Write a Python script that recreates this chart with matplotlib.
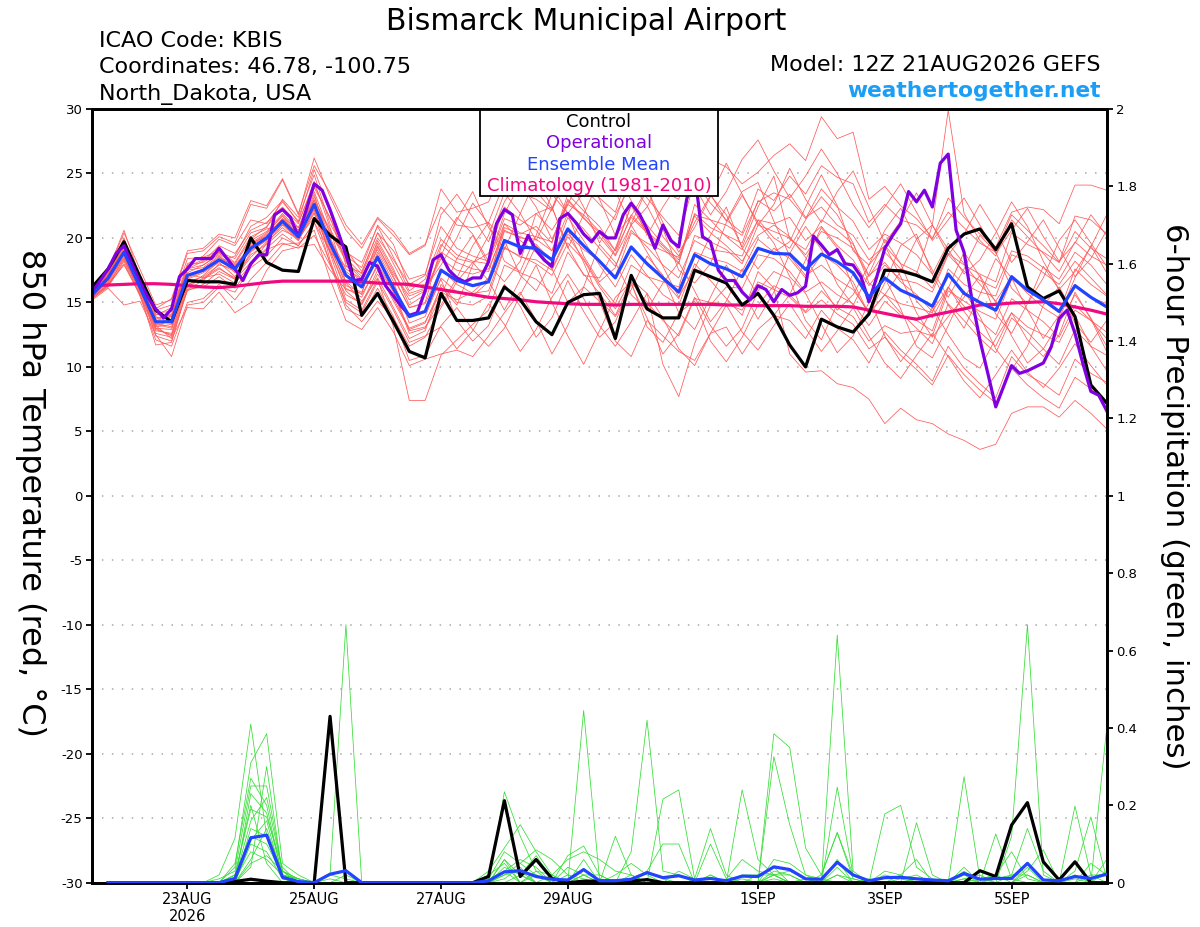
import matplotlib
matplotlib.use("Agg")
import matplotlib.pyplot as plt
from matplotlib.patches import Rectangle
import numpy as np

# ---------------- data ----------------
title = "Bismarck Municipal Airport"
info_left = ["ICAO Code: KBIS", "Coordinates: 46.78, -100.75", "North_Dakota, USA"]
model_text = "Model: 12Z 21AUG2026 GEFS"
site_text = "weathertogether.net"

# x in 6-hour steps from 12Z 21AUG2026
xtick_pos = [6, 14, 22, 30, 42, 50, 58]
xtick_labels = ["23AUG\n2026", "25AUG", "27AUG", "29AUG", "1SEP", "3SEP", "5SEP"]
ytick_left = [-30, -25, -20, -15, -10, -5, 0, 5, 10, 15, 20, 25, 30]
ytick_right = [0, 0.2, 0.4, 0.6, 0.8, 1.0, 1.2, 1.4, 1.6, 1.8, 2.0]
ytick_right_labels = ["0", "0.2", "0.4", "0.6", "0.8", "1", "1.2", "1.4", "1.6", "1.8", "2"]

# 850 hPa temperature (6-hourly, 65 points)
control_t = [16.2,17.6,19.7,17.0,14.4,13.5,16.7,16.6,16.6,16.4,20.0,18.1,17.5,17.4,21.5,20.2,19.3,14.0,15.7,13.5,11.2,10.7,
             15.7,13.6,13.6,13.8,16.2,15.2,13.5,12.5,15.0,15.6,15.7,12.2,17.1,14.5,13.8,13.8,17.5,17.0,16.5,14.8,15.7,14.0,
             11.7,10.0,13.7,13.1,12.7,14.1,17.5,17.45,17.1,16.6,19.2,20.3,20.7,19.1,21.1,16.2,15.3,15.9,13.9,8.6,7.2]
mean_t = [15.6,16.9,18.9,16.2,13.5,13.5,17.1,17.5,18.3,17.6,19.2,20.0,21.3,20.1,22.6,19.6,17.1,16.2,18.5,16.1,13.9,14.3,
          17.5,16.7,16.3,16.6,19.8,19.3,19.2,18.3,20.7,19.4,18.2,16.9,19.3,18.0,16.9,15.8,18.7,18.0,17.6,17.0,19.2,18.8,
          18.75,17.55,18.75,18.15,17.3,15.4,16.9,15.95,15.4,14.7,17.2,15.7,15.0,14.4,17.0,15.95,15.2,14.3,16.3,15.4,14.65]
clim_t = [16.3,16.35,16.4,16.45,16.45,16.4,16.3,16.2,16.15,16.25,16.4,16.55,16.65,16.65,16.65,16.65,16.65,16.6,16.5,16.45,
          16.4,16.2,16.0,15.8,15.6,15.4,15.3,15.2,15.05,14.97,14.9,14.85,14.85,14.8,14.85,14.85,14.85,14.85,14.85,14.85,
          14.8,14.8,14.75,14.75,14.75,14.7,14.7,14.7,14.65,14.4,14.15,13.9,13.7,14.0,14.25,14.5,14.8,14.85,14.95,15.0,
          15.05,14.9,14.65,14.4,14.1]
# operational run (3-hourly, 129 points)
oper_t = [15.8,16.7,17.6,18.8,19.4,18.0,16.6,15.4,14.5,13.8,
          14.5,17.0,17.6,18.4,18.4,18.4,19.2,18.4,17.6,16.7,
          18.0,18.7,18.7,21.8,22.2,21.6,20.1,22.2,24.2,23.7,
          22.2,20.5,18.7,16.7,16.8,18.1,17.8,16.3,15.5,14.7,
          14.0,14.2,15.9,18.3,18.7,17.5,16.9,16.6,16.9,16.9,
          18.15,21.1,22.2,21.8,18.8,20.2,19.05,18.3,17.8,21.5,
          21.9,21.2,20.3,19.7,20.5,20.0,20.0,21.8,22.7,21.9,
          20.7,19.2,21.0,19.8,19.3,23.0,25.0,20.1,19.7,17.5,
          16.7,16.7,15.8,15.2,16.3,16.0,15.05,16.0,15.55,15.75,
          16.25,20.15,19.45,18.7,19.1,18.0,17.9,17.0,15.05,17.0,
          19.2,20.2,21.1,23.6,22.8,23.7,22.4,25.8,26.5,20.6,
          18.9,15.2,12.1,9.5,6.9,8.5,10.1,9.5,9.7,10.0,
          10.3,11.55,13.75,14.4,12.6,10.25,8.1,7.8,6.6]

# ensemble members (6-hourly, 65 points)
mem01 = [16.0,17.4,20.4,17.6,14.8,15.2,18.8,19.0,20.1,19.6,22.6,22.3,24.5,21.8,26.2,23.2,20.6,19.2,21.5,20.2,18.7,19.4,
         23.8,22.0,22.3,22.8,25.4,24.1,23.6,22.2,25.8,24.6,23.1,22.0,25.6,24.4,23.6,23.0,27.2,26.1,25.5,24.2,25.1,26.4,
         27.3,26.0,29.4,27.7,28.2,23.0,24.0,22.5,21.5,20.0,22.0,20.8,19.6,18.9,21.8,20.6,19.4,18.1,20.5,19.2,18.4]
mem02 = [15.3,16.2,18.2,15.5,12.1,11.6,15.0,15.3,16.4,15.2,16.8,18.1,19.5,19.6,20.6,16.8,13.6,12.9,14.6,12.7,10.1,10.6,
         11.0,11.3,10.8,12.4,14.2,15.8,13.6,11.0,13.2,16.2,15.1,12.0,10.8,13.6,12.4,11.2,10.5,12.6,13.1,11.0,12.9,14.0,
         13.6,12.2,14.4,13.0,12.1,10.3,12.7,11.3,10.2,8.9,11.6,9.9,8.7,7.6,10.8,9.4,8.7,7.8,10.6,9.5,8.8]
mem03 = [15.6,17.2,19.6,16.8,13.9,13.4,17.6,18.2,19.4,18.8,20.6,21.2,22.4,21.1,24.4,20.8,16.5,15.1,16.9,14.6,12.2,12.8,
         16.4,15.0,14.8,15.5,19.2,18.6,18.0,17.1,19.6,18.3,16.2,14.5,16.8,15.7,10.2,7.7,11.8,14.8,16.2,16.1,18.7,18.4,
         17.4,15.8,16.6,15.6,14.9,13.2,15.1,14.0,13.6,12.8,16.2,14.7,13.6,12.5,15.3,14.4,13.5,12.3,14.8,13.6,12.7]
mem04 = [15.4,16.5,18.6,15.8,13.0,12.9,16.4,16.8,17.6,16.9,18.5,19.7,20.8,19.8,21.9,18.9,17.8,17.3,20.4,19.0,16.8,17.2,
         20.9,19.2,18.6,18.2,21.5,21.0,21.9,20.6,22.6,21.8,20.5,19.0,21.6,20.4,19.2,18.0,22.6,21.4,20.1,19.1,21.4,20.0,
         19.2,21.4,23.2,21.8,19.6,16.5,15.6,17.4,19.9,21.0,19.1,17.2,18.3,20.4,22.8,20.9,18.2,16.0,17.4,19.3,21.8]
mem05 = [15.8,17.0,19.9,16.5,13.2,12.2,14.6,14.5,15.8,14.2,15.0,17.5,19.0,19.3,19.5,17.5,16.0,15.7,19.3,17.2,15.5,16.0,
         18.6,21.4,23.6,20.8,19.1,21.9,24.6,22.4,19.2,21.8,24.6,25.2,22.9,20.2,22.4,24.3,25.6,23.4,21.3,23.6,24.3,21.3,
         18.6,17.1,17.9,16.8,16.0,14.2,15.6,14.9,14.6,14.2,17.6,16.4,15.8,15.5,18.7,18.2,17.3,16.4,18.2,16.9,15.6]
mem06 = [16.2,17.5,20.6,17.0,14.2,14.3,18.0,18.6,19.9,19.4,21.4,21.1,22.8,21.3,25.3,22.0,17.9,16.5,19.8,17.6,14.8,15.6,
         18.9,18.1,17.6,17.4,20.8,20.3,20.9,19.6,23.4,22.1,20.9,19.0,22.6,21.0,19.5,18.3,21.7,20.4,19.4,18.2,20.2,21.0,
         20.1,18.5,16.3,14.4,15.6,17.9,19.4,17.0,14.2,12.3,13.9,15.4,17.1,15.0,12.4,10.3,11.4,13.4,15.6,13.8,11.6]
mem07 = [15.5,16.6,18.9,16.2,12.4,12.0,16.0,16.7,18.0,17.4,19.6,20.4,21.7,20.2,23.0,18.3,14.8,13.5,15.1,13.8,11.6,12.3,
         14.6,16.6,18.1,16.7,14.4,16.8,19.4,17.6,15.0,16.2,19.5,18.1,15.6,14.4,16.5,18.1,15.9,13.5,15.1,17.6,15.5,14.0,
         15.6,18.3,20.8,19.2,16.2,14.1,16.5,19.4,20.3,17.2,14.8,13.0,15.6,18.4,16.9,14.4,12.2,14.0,16.9,19.4,17.3]
mem08 = [15.2,16.1,14.8,15.1,12.5,10.8,14.8,15.0,16.2,15.8,17.7,18.6,20.0,19.4,21.2,19.0,15.9,14.8,17.2,15.3,13.0,13.5,
         15.8,15.2,15.8,16.9,20.5,20.1,19.5,18.2,21.6,19.8,17.9,16.2,18.7,17.1,15.6,14.8,18.0,16.7,15.3,14.0,17.4,16.1,
         11.0,9.6,9.7,8.7,8.4,7.5,5.6,6.8,5.9,5.6,4.8,4.3,3.6,4.0,6.4,6.9,6.9,6.1,7.4,6.4,5.2]
mem09 = [15.7,17.1,19.3,16.6,13.6,13.9,17.5,17.7,18.6,17.3,19.8,20.5,21.9,20.6,23.6,20.3,18.6,17.7,21.0,19.5,16.2,16.4,
         19.5,18.4,18.1,18.8,22.4,21.4,20.6,19.0,22.9,21.5,20.4,18.7,21.8,20.5,19.4,18.1,21.9,20.8,20.2,19.6,22.9,22.1,
         23.4,21.6,22.4,21.0,20.2,18.3,19.4,18.0,17.4,16.1,18.8,17.9,17.2,16.6,20.4,19.5,18.9,18.1,21.7,21.4,20.3]
mem10 = [15.9,17.3,20.0,16.9,14.0,14.6,18.4,18.5,19.0,18.1,20.1,20.7,21.0,19.9,22.4,19.2,16.6,15.6,17.8,15.8,12.6,13.0,
         15.5,18.4,20.2,17.9,16.6,18.2,21.9,22.4,19.3,17.1,16.9,19.2,22.5,20.4,17.8,15.4,17.6,20.2,22.4,19.2,17.6,19.2,
         18.4,16.9,18.7,17.9,16.6,14.1,15.6,14.2,13.0,11.8,14.9,13.6,12.2,11.1,13.8,12.7,11.4,10.2,12.9,11.6,10.9]
mem11 = [15.5,16.8,18.4,16.0,13.2,13.6,17.3,17.9,18.8,17.9,19.4,20.2,21.5,20.8,22.9,20.5,18.2,17.0,19.1,16.9,14.6,14.9,
         17.6,16.4,15.7,15.9,19.3,18.5,18.3,17.5,20.1,18.4,16.4,14.9,17.9,17.0,16.6,16.2,20.2,19.7,19.1,18.0,21.0,20.5,
         20.0,18.7,20.5,20.0,19.2,17.0,18.9,17.6,17.2,21.0,29.9,21.9,19.8,18.6,21.4,20.1,18.8,17.4,19.7,18.6,17.9]
mem12 = [15.3,16.4,17.9,15.6,12.8,12.6,16.6,17.0,17.9,17.6,19.0,19.8,21.1,20.0,22.0,18.0,14.5,13.9,16.1,13.9,10.5,10.9,
         13.2,14.6,12.9,11.6,13.0,15.6,17.9,15.0,12.4,10.2,12.8,15.4,16.6,13.1,11.9,14.2,15.1,12.0,10.4,12.3,14.8,16.3,
         15.6,14.3,15.9,14.6,13.9,12.0,13.2,12.6,12.8,12.4,15.9,15.1,14.3,13.7,16.8,16.0,15.1,14.2,17.6,16.4,15.5]
mem13 = [16.1,17.2,19.5,16.6,13.8,14.0,17.8,18.3,18.9,18.4,20.4,20.8,23.0,21.6,24.9,21.1,18.9,18.1,20.9,18.5,15.9,16.8,
         19.9,18.7,18.2,18.0,21.1,19.8,18.9,17.6,20.3,19.1,18.2,17.0,20.4,19.6,19.0,18.5,21.8,21.4,21.0,20.2,22.8,23.5,
         23.0,21.5,23.8,22.4,21.3,19.1,20.3,19.6,18.7,17.2,19.6,18.0,16.4,15.1,17.0,15.7,14.6,13.8,16.4,15.4,14.9]
mem14 = [15.6,16.7,18.7,16.1,13.4,13.1,16.8,17.3,18.1,17.0,18.7,19.5,20.6,20.0,21.6,19.9,17.4,16.4,18.7,16.3,14.0,14.2,
         16.8,13.6,12.0,13.2,16.4,14.7,12.3,13.8,16.7,14.3,12.3,13.5,16.4,13.8,11.0,12.6,15.4,13.2,11.6,13.0,15.9,17.4,
         16.8,13.6,12.1,14.9,17.2,15.5,12.4,10.4,12.1,14.6,12.5,10.7,9.9,12.2,14.2,12.1,10.8,12.5,15.8,13.7,11.2]
mem15 = [15.4,16.3,18.0,15.7,11.7,11.9,16.2,16.9,17.7,16.8,18.9,19.9,21.2,19.8,22.2,18.8,15.2,14.4,16.8,13.1,7.4,7.4,
         10.9,12.1,13.3,14.4,17.9,17.3,16.8,15.7,18.9,17.2,15.7,14.0,16.6,15.0,13.6,12.4,15.3,15.0,14.9,14.4,16.6,16.0,
         15.4,14.2,15.2,14.1,13.3,11.4,12.3,10.9,9.8,8.6,10.9,9.4,8.2,7.2,9.9,8.6,7.6,6.8,9.2,8.3,7.1]
mem16 = [15.8,17.1,19.2,16.4,14.5,15.3,19.0,19.2,20.3,20.0,22.9,22.5,24.6,21.9,25.6,23.5,21.0,19.5,21.6,20.5,18.8,19.5,
         22.4,21.0,20.8,21.2,24.3,23.5,23.0,22.1,25.2,23.9,22.6,21.4,24.8,23.1,21.6,20.2,24.4,22.7,21.4,20.4,23.8,22.9,
         24.8,23.4,25.6,24.7,24.2,21.2,22.6,21.4,21.0,19.9,23.1,21.6,20.3,19.3,22.0,22.4,22.2,21.1,24.1,24.1,23.7]
mem17 = [15.6,16.9,19.1,16.3,13.3,13.0,16.9,17.4,18.4,17.7,19.5,20.3,21.8,20.4,23.4,19.4,16.3,15.8,18.9,16.6,13.4,13.9,
         16.9,15.8,15.5,16.6,21.1,20.4,20.1,19.7,23.0,21.6,20.1,18.6,21.0,18.9,16.8,15.3,18.9,18.4,18.1,17.4,19.9,18.9,
         19.7,22.4,24.9,22.5,19.0,17.9,20.6,22.3,19.9,17.5,15.4,17.6,20.2,18.9,16.1,14.9,16.9,19.8,21.4,19.6,17.8]
mem18 = [15.9,17.0,19.8,17.2,14.4,14.8,17.2,16.9,17.2,16.5,17.9,19.1,19.6,19.2,20.2,17.9,15.6,14.9,17.5,15.1,12.9,13.4,
         16.2,14.8,17.9,20.2,23.5,21.9,19.8,22.3,24.7,22.4,19.6,21.8,24.2,22.5,20.1,18.6,21.2,23.3,21.8,19.3,22.4,24.8,
         19.9,19.1,21.4,20.6,19.5,17.1,18.1,16.6,15.6,14.3,16.2,14.3,12.7,11.6,14.2,13.1,12.5,11.9,14.4,13.6,12.2]
mem19 = [15.7,16.8,18.8,16.0,13.1,13.3,17.0,17.6,18.5,17.8,19.3,20.0,21.4,20.3,23.2,20.0,17.6,16.8,19.6,17.4,15.2,15.9,
         18.4,17.5,17.2,17.6,20.6,20.0,19.9,19.0,21.9,20.7,19.2,17.8,20.6,19.3,17.9,16.9,19.8,19.1,18.9,18.6,21.4,21.1,
         21.6,19.8,20.9,19.4,18.3,16.3,17.9,16.8,16.5,15.8,18.7,17.4,16.7,16.1,19.0,18.6,17.7,16.8,18.9,17.9,16.4]
mem20 = [15.4,16.4,18.3,15.9,12.9,12.5,16.3,17.1,18.2,18.6,20.9,21.6,22.9,21.2,24.1,21.5,19.1,17.4,20.4,18.0,15.7,16.1,
         17.9,20.0,22.7,21.1,18.2,17.4,20.2,23.4,21.9,18.6,16.6,17.7,21.1,23.8,20.7,17.5,16.5,18.0,21.2,23.3,21.2,19.6,
         17.0,15.7,13.3,11.1,12.4,15.0,16.9,14.5,11.6,10.7,13.2,15.9,13.9,11.4,9.8,11.6,14.8,16.2,14.0,11.6,9.7]
mem21 = [15.5,16.6,18.9,16.6,13.0,12.4,16.0,16.2,17.0,16.1,17.8,19.6,21.0,20.6,22.2,19.0,16.1,15.4,18.0,15.9,12.8,13.1,
         14.8,16.9,19.4,21.2,19.8,17.1,15.9,18.2,20.6,18.1,15.2,13.9,16.0,18.6,17.1,14.2,12.9,15.4,17.9,16.0,13.7,15.8,
         18.8,20.9,19.1,16.4,14.8,17.2,19.9,18.0,15.1,13.8,16.1,18.9,17.0,14.1,12.6,14.9,17.8,16.0,13.4,11.9,13.6]
mem22 = [15.9,17.2,19.4,17.0,14.1,13.9,17.9,18.1,18.9,18.0,19.9,20.9,22.3,20.8,23.9,21.6,18.1,16.8,19.4,17.0,14.6,15.0,
         19.3,21.6,20.3,18.2,21.9,24.2,22.4,19.9,22.6,25.1,23.0,20.2,21.7,23.8,21.2,18.9,20.8,23.2,25.8,23.4,21.0,22.6,
         25.4,23.0,21.2,23.6,25.2,22.4,19.6,21.3,23.5,21.0,18.7,20.3,22.6,20.6,18.1,19.7,21.4,19.2,17.0,18.4,20.6]
mem23 = [15.3,16.3,18.5,15.6,12.6,12.3,15.9,16.4,17.4,16.8,18.1,19.2,20.3,19.4,21.2,18.1,15.0,14.2,16.6,14.4,11.9,12.4,
         13.1,11.4,12.8,14.9,13.3,11.2,12.9,15.4,17.2,15.3,13.2,11.6,13.5,15.7,13.8,11.4,10.1,12.6,14.8,12.7,11.3,13.2,
         14.9,13.0,11.2,12.8,14.6,12.4,10.3,9.1,10.9,12.6,10.8,8.9,7.6,9.4,11.3,9.6,8.4,9.9,11.8,10.1,8.6]
mem24 = [16.0,17.1,19.0,16.4,13.7,14.1,17.6,17.9,18.7,17.5,19.6,20.1,21.5,20.3,22.9,20.7,18.4,17.2,20.0,18.3,16.4,17.1,
         21.8,23.4,21.6,19.7,22.8,24.8,26.4,24.1,21.9,23.5,25.7,23.6,21.0,22.4,24.9,26.3,24.0,21.8,23.6,26.1,27.6,25.2,
         23.1,24.8,26.9,25.0,22.6,20.8,22.4,24.2,22.0,19.8,21.4,23.1,21.0,18.8,20.6,22.3,20.1,18.2,19.6,21.8,20.2]
members_t = [mem01, mem02, mem03, mem04, mem05, mem06, mem07, mem08, mem09, mem10, mem11, mem12,
             mem13, mem14, mem15, mem16, mem17, mem18, mem19, mem20, mem21, mem22, mem23, mem24]

# 6-hour precipitation (inches), forecast steps 1..64
control_p = [0,0,0,0,0,0,0,0, 0.003,0.009,0.004,0,0,0,0.43,0, 0,0,0,0,0,0,0,0,
             0.016,0.212,0.016,0.06,0.011,0,0.004,0.004, 0.004,0.004,0.008,0,0,0,0,0,
             0,0,0,0,0,0,0,0, 0,0,0,0,0,0,0,0.031, 0.016,0.149,0.207,0.054,0.007,0.054,0,0]
mean_p = [0,0,0,0,0,0,0,0, 0.011,0.116,0.123,0.014,0.003,0,0.022,0.031, 0,0,0,0,0,0,0,0,
          0.005,0.028,0.031,0.016,0.009,0.007,0.034,0.005, 0.005,0.009,0.026,0.013,0.018,0.007,0.011,0.005,
          0.017,0.016,0.041,0.034,0.01,0.009,0.053,0.02, 0.005,0.013,0.014,0.01,0.007,0.005,0.024,0.009,
          0.011,0.011,0.05,0.007,0.005,0.016,0.011,0.022]
gp01 = [0,0,0,0,0,0,0,0.02, 0.115,0.41,0.12,0.03,0.01,0,0,0, 0,0,0,0,0,0,0,0, 0,0.235,0.12,0.03,0,0,0.06,0,
        0,0,0.03,0.01,0,0,0,0, 0.01,0,0.385,0.35,0.09,0.02,0.13,0.02, 0,0.02,0.01,0,0,0,0.01,0, 0,0.02,0.14,0.03,0,0,0.02,0.02]
gp02 = [0,0,0,0,0,0,0,0, 0.04,0.31,0.385,0.05,0.02,0,0,0, 0,0,0,0,0,0,0,0, 0.03,0.09,0.15,0.08,0.02,0,0.445,0.01,
        0,0,0,0,0,0,0.02,0, 0,0.02,0.02,0.03,0.01,0,0.64,0.03, 0,0,0,0,0,0,0.02,0, 0,0,0.03,0.085,0,0.01,0,0.03]
gp03 = [0,0,0,0,0,0,0,0.01, 0.03,0.25,0.25,0.03,0,0,0.02,0.667, 0,0,0,0,0,0,0,0, 0,0.02,0.05,0.085,0.06,0.02,0.01,0,
        0.12,0.02,0,0,0,0,0,0, 0.24,0.06,0.02,0,0,0,0.02,0, 0,0,0,0.01,0,0,0.274,0.01, 0,0,0,0,0,0.198,0.02,0]
gp04 = [0,0,0,0,0,0,0,0, 0,0.23,0.18,0.02,0.01,0,0,0.02, 0,0,0,0,0,0,0,0, 0.01,0.08,0.05,0.02,0,0.07,0.095,0.02,
        0,0.08,0.42,0.03,0.02,0,0,0, 0,0,0.326,0.15,0.02,0.01,0,0, 0,0,0,0.155,0.02,0,0,0, 0.126,0.01,0,0,0,0.03,0.17,0.01]
gp05 = [0,0,0,0,0,0,0,0, 0.02,0.19,0.17,0.04,0,0,0.02,0.01, 0,0,0,0,0,0,0,0, 0,0.06,0.02,0,0.02,0.06,0.08,0.06,
        0.03,0.02,0,0.216,0.24,0.01,0.14,0.02, 0,0,0.02,0,0,0,0.247,0.02, 0,0.178,0.2,0.04,0.01,0,0,0, 0,0.12,0.667,0.02,0,0,0,0.40]
gp06 = [0,0,0,0,0,0,0,0, 0.01,0.16,0.22,0.03,0.01,0,0,0, 0,0,0,0,0,0,0,0, 0,0.04,0.02,0.07,0.01,0,0,0,
        0,0,0.03,0.1,0.1,0,0.1,0.01, 0.06,0.03,0.02,0.02,0,0.02,0.129,0.01, 0,0,0.02,0,0,0,0.03,0, 0.01,0.02,0.02,0,0,0.02,0,0.06]
gp07 = [0,0,0,0,0,0,0,0, 0,0.14,0.12,0.02,0,0,0,0, 0,0,0,0,0,0,0,0, 0,0.03,0.06,0.04,0,0.04,0.02,0,
        0.02,0.05,0.02,0,0,0,0.02,0, 0.02,0.02,0.04,0,0.01,0,0.02,0.01, 0,0.03,0.02,0.06,0,0,0.04,0, 0.02,0.08,0.01,0,0,0,0.05,0.02]
gp08 = [0,0,0,0,0,0,0,0, 0,0.12,0.1,0.02,0,0,0,0, 0,0,0,0,0,0,0,0, 0.02,0.05,0,0.03,0.02,0,0.02,0.02,
        0,0,0,0,0.03,0.01,0,0, 0,0,0.06,0.05,0.02,0,0.04,0, 0,0,0.01,0.02,0,0,0.01,0.02, 0,0,0.04,0,0,0,0,0]
gp09 = [0,0,0,0,0,0,0,0, 0,0.1,0.08,0.01,0,0,0,0, 0,0,0,0,0,0,0,0, 0,0.02,0.03,0,0,0,0.02,0,
        0,0.02,0,0,0,0,0,0, 0,0,0.03,0.02,0,0,0,0, 0.01,0,0,0,0,0,0,0.01, 0.02,0,0,0,0,0.02,0,0]
gp10 = [0,0,0,0,0,0,0,0, 0.01,0.08,0.06,0.02,0.01,0,0,0, 0,0,0,0,0,0,0,0, 0,0,0,0.02,0,0,0,0,
        0,0,0,0,0,0,0,0, 0,0,0.01,0,0,0,0,0, 0,0,0,0,0,0,0,0, 0,0,0.02,0,0,0,0,0]
gp11 = [0,0,0,0,0,0,0,0, 0,0.06,0.14,0.02,0,0,0,0, 0,0,0,0,0,0,0,0, 0,0.01,0.04,0,0,0.02,0,0,
        0,0,0,0,0,0,0,0, 0,0,0,0,0,0,0.06,0, 0,0,0,0,0,0,0,0, 0,0,0,0,0,0,0,0]
gp12 = [0,0,0,0,0,0,0,0, 0.02,0.2,0.05,0,0,0,0,0, 0,0,0,0,0,0,0,0, 0,0,0,0,0,0,0,0.01,
        0,0,0,0,0,0,0,0, 0,0,0,0,0,0,0,0, 0,0,0,0,0,0,0,0, 0,0,0,0,0,0,0,0]
gp13 = [0,0,0,0,0,0,0,0, 0.05,0.27,0.2,0.01,0,0,0,0, 0,0,0,0,0,0,0,0, 0,0.03,0,0,0,0,0,0,
        0,0,0,0,0,0,0,0, 0,0,0.02,0,0,0,0,0, 0,0,0,0,0,0,0,0, 0,0,0,0,0,0,0,0]
gp14 = [0,0,0,0,0,0,0,0, 0,0.04,0.3,0.02,0,0,0,0, 0,0,0,0,0,0,0,0, 0,0,0,0,0,0,0,0,
        0,0,0,0,0,0,0,0, 0,0,0,0,0,0,0,0, 0,0,0,0,0,0,0,0, 0,0,0,0,0,0,0,0]
gp15 = [0,0,0,0,0,0,0,0, 0.02,0.11,0.16,0.01,0,0,0,0, 0,0,0,0,0,0,0,0, 0,0,0.02,0,0,0,0,0,
        0,0,0,0,0,0,0,0, 0,0,0,0,0,0,0,0, 0,0,0,0,0,0,0,0, 0,0,0,0,0,0,0,0]
gp16 = [0,0,0,0,0,0,0,0, 0,0.05,0.07,0.03,0,0,0.01,0, 0,0,0,0,0,0,0,0, 0,0.06,0,0,0,0,0,0,
        0,0,0,0,0,0,0,0, 0,0,0,0,0,0,0,0, 0,0,0,0,0,0,0,0, 0,0,0,0,0,0,0,0]
members_p = [gp01, gp02, gp03, gp04, gp05, gp06, gp07, gp08,
             gp09, gp10, gp11, gp12, gp13, gp14, gp15, gp16]

# ---------------- figure ----------------
W, H = 1200, 927
fig = plt.figure(figsize=(12, 9.27), dpi=100)
L, R, T, B = 92.3, 1106.7, 109.0, 882.7
ax = fig.add_axes([L / W, 1 - B / H, (R - L) / W, (B - T) / H])

x6 = np.arange(len(mean_t))
x3 = np.arange(len(oper_t)) / 2.0
xp = np.arange(1, len(mean_p) + 1)

RED = "#ff5a5a"
GREEN = "#35dd35"
PURPLE = "#8000e0"
BLUE = "#2244ff"
PINK = "#f00a80"

for v in range(-25, 30, 5):
    ax.axhline(v, color="#a8a8a8", lw=1.1, ls=(0, (1, 5.5)), zorder=0.5)

for m in members_t:
    ax.plot(x6, m, color=RED, lw=0.55, zorder=1)
ax.plot(x6, clim_t, color=PINK, lw=2.3, zorder=2)
ax.plot(x6, control_t, color="black", lw=2.3, zorder=3)
ax.plot(x3, oper_t, color=PURPLE, lw=2.3, zorder=4)
ax.plot(x6, mean_t, color=BLUE, lw=2.3, zorder=5)

ax.set_xlim(0, 64)
ax.set_ylim(-30, 30)
ax.set_yticks(ytick_left)
ax.set_yticklabels([str(v) for v in ytick_left])
ax.set_xticks(xtick_pos)
ax.set_xticklabels(xtick_labels, linespacing=1.1)
ax.tick_params(axis="y", direction="out", length=4, width=1.3, labelsize=9.5, pad=3)
ax.tick_params(axis="x", direction="out", length=4, width=1.3, labelsize=10.5, pad=3)

ax2 = ax.twinx()
for g in members_p:
    ax2.plot(xp, g, color=GREEN, lw=0.55, zorder=1)
ax2.plot(xp, control_p, color="black", lw=2.3, zorder=3)
ax2.plot(xp, mean_p, color=BLUE, lw=2.3, zorder=5)
ax2.set_ylim(0, 2)
ax2.set_yticks(ytick_right)
ax2.set_yticklabels(ytick_right_labels)
ax2.tick_params(axis="y", direction="out", length=4, width=1.3, labelsize=9.5, pad=3)

for a in (ax, ax2):
    for s in a.spines.values():
        s.set_linewidth(2.0)

# ---------------- texts ----------------
def fx(px):
    return px / W

def fy(py):
    return 1 - py / H

fig.text(fx(586), fy(30), title, ha="center", va="baseline", fontsize=21.5)
for txt, yb in zip(info_left, [46.7, 73.3, 100.0]):
    fig.text(fx(99), fy(yb), txt, ha="left", va="baseline", fontsize=16)
fig.text(fx(1101), fy(71), model_text, ha="right", va="baseline", fontsize=16)
fig.text(fx(1101), fy(97), site_text, ha="right", va="baseline", fontsize=15.7,
         fontweight="bold", color="#1c9ef5")

fig.text(fx(30), fy(493), "850 hPa Temperature (red, °C)", rotation=-90,
         ha="center", va="center", fontsize=23)
fig.text(fx(1174), fy(496), "6-hour Precipitation (green, inches)", rotation=-90,
         ha="center", va="center", fontsize=22.2)

# legend box
bx0, bx1, by0, by1 = 480, 718, 110, 196
fig.add_artist(Rectangle((fx(bx0), fy(by1)), (bx1 - bx0) / W, (by1 - by0) / H,
                         transform=fig.transFigure, facecolor="white",
                         edgecolor="black", lw=1.3, zorder=5))
leg_items = [("Control", "black", 126.7), ("Operational", PURPLE, 148.3),
             ("Ensemble Mean", BLUE, 170.0), ("Climatology (1981-2010)", PINK, 190.7)]
for txt, col, yb in leg_items:
    t = fig.text(fx(599), fy(yb), txt, ha="center", va="baseline", fontsize=13, color=col)
    t.set_zorder(6)

fig.savefig("out.png", dpi=100)
